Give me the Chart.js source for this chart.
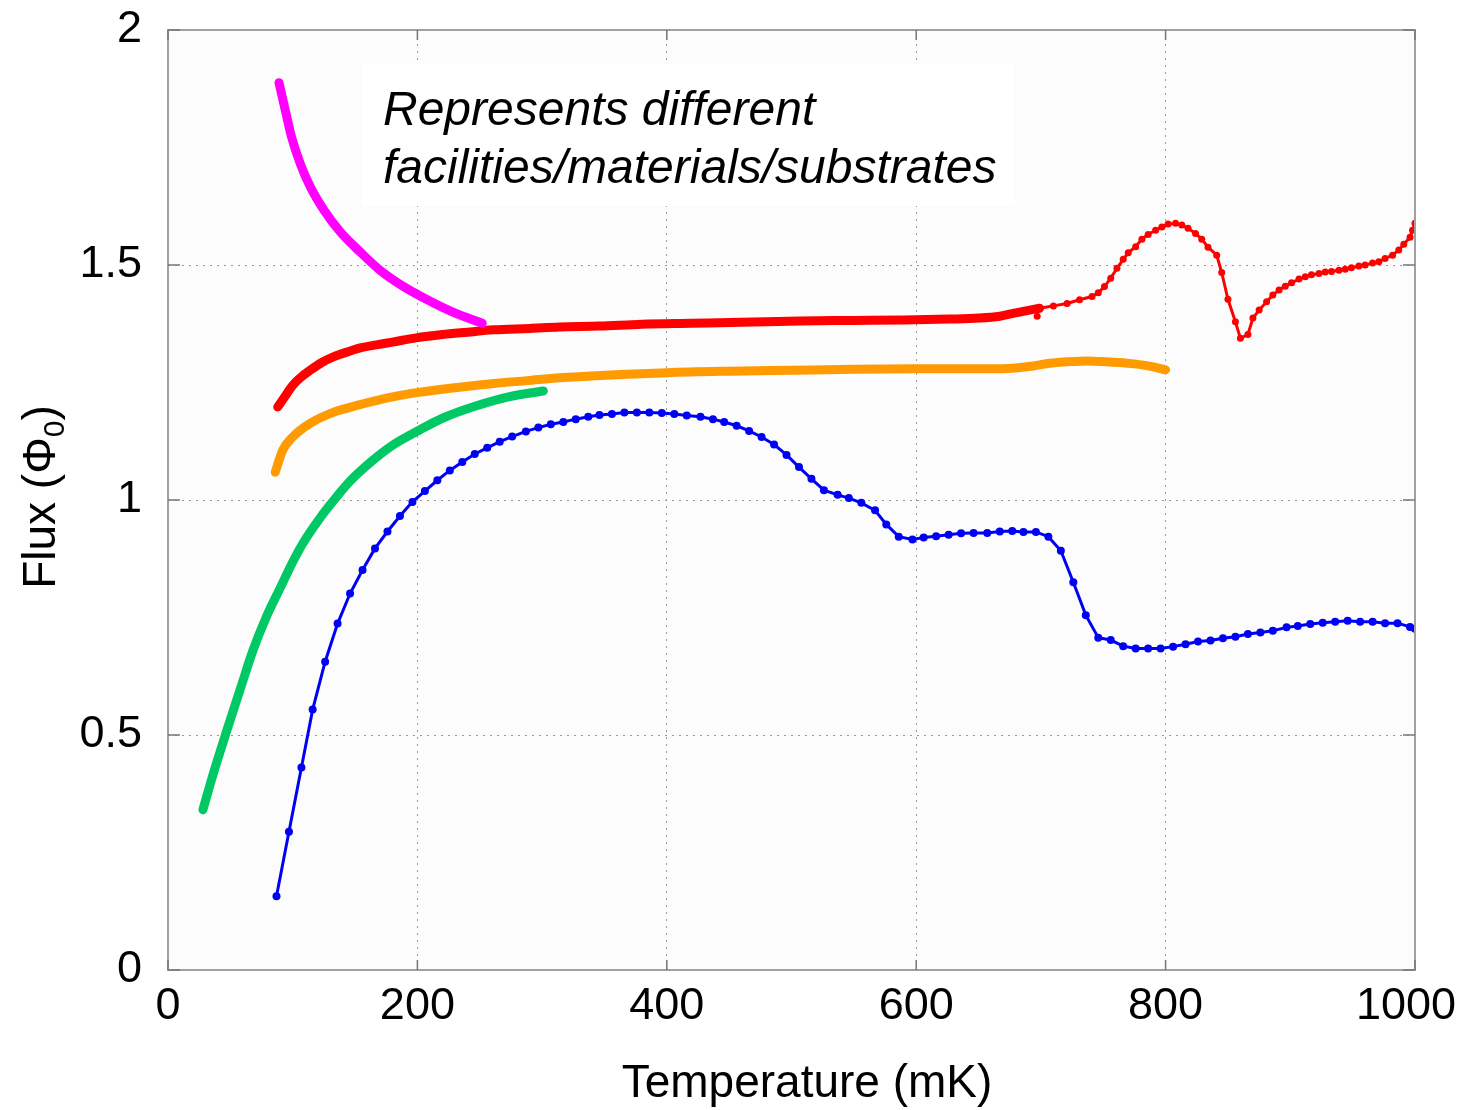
<!DOCTYPE html>
<html>
<head>
<meta charset="utf-8">
<script src="https://cdn.jsdelivr.net/npm/chart.js@4.4.1/dist/chart.umd.min.js"></script>
<style>
body{margin:0;background:#fff;}
</style>
</head>
<body>
<canvas id="fluxChart" width="1462" height="1110"></canvas>
<script>
// temperature in mK, flux in units of Phi_0
const magentaT = [89, 94, 99, 106, 114, 125, 138, 154, 170, 189, 208, 229, 252];
const magentaFlux = [1.888, 1.830, 1.773, 1.716, 1.667, 1.617, 1.571, 1.528, 1.489, 1.454, 1.426, 1.399, 1.376];

const redDenseT = [88, 95, 100, 107, 114, 123, 133, 145, 155, 167, 180, 199, 220, 240, 261, 290, 314, 346, 380, 420, 460, 507, 550, 590, 627, 650, 667, 676, 687, 699];
const redDenseFlux = [1.198, 1.225, 1.244, 1.262, 1.276, 1.292, 1.305, 1.316, 1.324, 1.330, 1.336, 1.345, 1.352, 1.357, 1.362, 1.365, 1.368, 1.370, 1.374, 1.376, 1.378, 1.381, 1.382, 1.383, 1.385, 1.387, 1.391, 1.396, 1.402, 1.408];

const redT = [699, 710, 721, 731, 741, 746, 751, 756, 761, 766, 770, 776, 781, 786, 792, 797, 802, 808, 813, 818, 824, 829, 834, 841, 845, 850, 856, 860, 866, 870, 875, 881, 886, 891, 896, 901, 907, 912, 917, 923, 928, 933, 939, 944, 949, 955, 960, 966, 971, 976, 982, 987, 991, 996, 998, 1000];
const redFlux = [1.408, 1.413, 1.418, 1.426, 1.433, 1.441, 1.454, 1.472, 1.493, 1.512, 1.526, 1.539, 1.555, 1.565, 1.574, 1.581, 1.587, 1.589, 1.585, 1.578, 1.567, 1.555, 1.538, 1.521, 1.484, 1.427, 1.379, 1.344, 1.352, 1.387, 1.404, 1.422, 1.436, 1.447, 1.455, 1.462, 1.470, 1.475, 1.479, 1.482, 1.485, 1.486, 1.489, 1.491, 1.494, 1.498, 1.500, 1.504, 1.507, 1.514, 1.521, 1.532, 1.544, 1.559, 1.574, 1.589];
const redStrayT = [697];
const redStrayFlux = [1.391];

const orangeT = [86, 92, 100, 114, 133, 154, 181, 201, 234, 261, 288, 314, 355, 400, 450, 500, 550, 600, 660, 680, 694, 707, 721, 737, 753, 769, 785, 800];
const orangeFlux = [1.059, 1.106, 1.134, 1.163, 1.187, 1.203, 1.220, 1.229, 1.240, 1.248, 1.254, 1.260, 1.266, 1.271, 1.274, 1.276, 1.278, 1.279, 1.279, 1.281, 1.285, 1.291, 1.294, 1.296, 1.294, 1.291, 1.286, 1.277];

const greenT = [28, 36, 47, 58, 68, 79, 90, 100, 108, 122, 135, 146, 165, 181, 201, 221, 248, 274, 301];
const greenFlux = [0.341, 0.415, 0.508, 0.598, 0.679, 0.752, 0.813, 0.868, 0.907, 0.962, 1.006, 1.040, 1.086, 1.118, 1.148, 1.175, 1.201, 1.220, 1.232];

const blueT = [87, 97, 107, 116, 126, 136, 146, 156, 166, 176, 186, 196, 206, 216, 226, 236, 246, 256, 266, 276, 287, 297, 307, 317, 327, 337, 346, 356, 366, 376, 386, 396, 406, 416, 427, 437, 446, 456, 466, 476, 486, 496, 506, 516, 526, 537, 546, 556, 567, 576, 586, 597, 606, 616, 626, 636, 646, 657, 667, 677, 686, 696, 706, 716, 726, 736, 746, 756, 766, 776, 786, 796, 806, 816, 826, 836, 846, 856, 866, 876, 886, 897, 906, 916, 926, 936, 946, 956, 966, 976, 986, 996, 1000];
const blueFlux = [0.157, 0.294, 0.431, 0.554, 0.656, 0.737, 0.801, 0.851, 0.897, 0.933, 0.966, 0.996, 1.019, 1.042, 1.063, 1.081, 1.098, 1.111, 1.124, 1.135, 1.146, 1.154, 1.161, 1.166, 1.172, 1.177, 1.181, 1.183, 1.186, 1.186, 1.186, 1.185, 1.183, 1.180, 1.177, 1.172, 1.166, 1.158, 1.147, 1.134, 1.118, 1.096, 1.070, 1.045, 1.021, 1.011, 1.004, 0.994, 0.978, 0.948, 0.922, 0.916, 0.920, 0.923, 0.926, 0.929, 0.930, 0.930, 0.933, 0.934, 0.932, 0.932, 0.922, 0.892, 0.825, 0.755, 0.707, 0.702, 0.689, 0.684, 0.684, 0.684, 0.688, 0.693, 0.699, 0.701, 0.706, 0.709, 0.715, 0.718, 0.722, 0.729, 0.732, 0.736, 0.739, 0.741, 0.743, 0.741, 0.741, 0.738, 0.738, 0.730, 0.726];

const xTicks = [0, 200, 400, 600, 800, 1000];
const yTicks = [0, 0.5, 1, 1.5, 2];

function pts(xs, ys) {
  return xs.map((x, i) => ({x: x, y: ys[i]}));
}

function thickLine(label, xs, ys, color) {
  return {
    label: label,
    data: pts(xs, ys),
    borderColor: color,
    backgroundColor: color,
    borderWidth: 9,
    borderCapStyle: 'round',
    borderJoinStyle: 'round',
    pointRadius: 0,
    cubicInterpolationMode: 'monotone',
    fill: false
  };
}

function dotLine(label, xs, ys, color, r) {
  return {
    label: label,
    data: pts(xs, ys),
    borderColor: color,
    backgroundColor: color,
    borderWidth: 3,
    pointRadius: r,
    pointBorderWidth: 0,
    pointBackgroundColor: color,
    tension: 0,
    fill: false
  };
}

// keep tick label overflow from shrinking the plot box
function noOverflow(s) {
  s.paddingTop = 0;
  s.paddingBottom = 0;
  s.paddingLeft = 0;
  s.paddingRight = 0;
}

const FONT = "'Liberation Sans', Arial, sans-serif";
Chart.defaults.font.family = FONT;

const framePlugin = {
  id: 'frame',
  beforeDraw(chart) {
    const a = chart.chartArea, ctx = chart.ctx;
    ctx.save();
    ctx.fillStyle = '#ffffff';
    ctx.fillRect(0, 0, chart.width, chart.height);
    ctx.fillStyle = '#fcfcfc';
    ctx.fillRect(a.left, a.top, a.right - a.left, a.bottom - a.top);
    ctx.restore();
  },
  beforeDatasetsDraw(chart) {
    const ctx = chart.ctx;
    ctx.save();
    // note box
    ctx.fillStyle = '#ffffff';
    ctx.fillRect(362, 64, 653, 142);
    ctx.fillStyle = '#000';
    ctx.font = 'italic 48px ' + FONT;
    ctx.textAlign = 'left';
    ctx.textBaseline = 'alphabetic';
    ctx.fillText('Represents different', 383, 125);
    ctx.fillText('facilities/materials/substrates', 383, 183);
    ctx.restore();
  },
  afterDraw(chart) {
    const a = chart.chartArea, ctx = chart.ctx;
    const xs = chart.scales.x, ys = chart.scales.y;
    ctx.save();
    ctx.setLineDash([]);
    ctx.strokeStyle = '#a0a0a0';
    ctx.lineWidth = 2;
    ctx.strokeRect(a.left, a.top, a.right - a.left, a.bottom - a.top);
    ctx.strokeStyle = '#777';
    ctx.lineWidth = 1.5;
    ctx.beginPath();
    xTicks.forEach(v => {
      const p = xs.getPixelForValue(v);
      ctx.moveTo(p, a.bottom); ctx.lineTo(p, a.bottom - 10);
      ctx.moveTo(p, a.top); ctx.lineTo(p, a.top + 10);
    });
    yTicks.forEach(v => {
      const p = ys.getPixelForValue(v);
      ctx.moveTo(a.left, p); ctx.lineTo(a.left + 12, p);
      ctx.moveTo(a.right, p); ctx.lineTo(a.right - 12, p);
    });
    ctx.stroke();

    // x tick labels, last one kept inside the page
    ctx.fillStyle = '#000';
    ctx.font = '45px ' + FONT;
    ctx.textAlign = 'center';
    ctx.textBaseline = 'alphabetic';
    xTicks.forEach(v => {
      const label = String(v);
      const w = ctx.measureText(label).width;
      let p = xs.getPixelForValue(v);
      if (p + w / 2 > chart.width - 6) p = chart.width - 6 - w / 2;
      ctx.fillText(label, p, a.bottom + 49);
    });

    // axis titles
    ctx.font = '46px ' + FONT;
    ctx.fillText('Temperature (mK)', 807, 1097);

    ctx.translate(55, 497);
    ctx.rotate(-Math.PI / 2);
    const big = '46px ' + FONT, small = '30px ' + FONT;
    ctx.font = big;
    const w1 = ctx.measureText('Flux (\u03A6').width;
    const w3 = ctx.measureText(')').width;
    ctx.font = small;
    const w2 = ctx.measureText('0').width;
    let x0 = -(w1 + w2 + w3) / 2;
    ctx.textAlign = 'left';
    ctx.font = big;
    ctx.fillText('Flux (\u03A6', x0, 0);
    ctx.font = small;
    ctx.fillText('0', x0 + w1, 9);
    ctx.font = big;
    ctx.fillText(')', x0 + w1 + w2, 0);
    ctx.restore();
  }
};

const ctx = document.getElementById('fluxChart').getContext('2d');
const fluxChart = new Chart(ctx, {
  type: 'line',
  data: {
    datasets: [
      thickLine('magenta', magentaT, magentaFlux, '#ff00ff'),
      thickLine('red', redDenseT, redDenseFlux, '#ff0000'),
      dotLine('red markers', redT, redFlux, '#ff0000', 3.5),
      Object.assign(dotLine('red stray', redStrayT, redStrayFlux, '#ff0000', 3.5), {showLine: false}),
      thickLine('orange', orangeT, orangeFlux, '#ff9a00'),
      thickLine('green', greenT, greenFlux, '#00c864'),
      dotLine('blue', blueT, blueFlux, '#0000f5', 4)
    ]
  },
  options: {
    responsive: false,
    animation: false,
    events: [],
    layout: {padding: {top: 30, right: 47, left: 0, bottom: 0}},
    plugins: {
      legend: {display: false},
      tooltip: {enabled: false}
    },
    scales: {
      x: {
        type: 'linear',
        min: 0,
        max: 1000,
        afterFit: s => { s.height = 140; noOverflow(s); },
        afterBuildTicks: s => { s.ticks = xTicks.map(v => ({value: v})); },
        ticks: {display: false},
        grid: {color: '#999', lineWidth: 1, drawTicks: false},
        border: {display: false, dash: [2, 5]}
      },
      y: {
        type: 'linear',
        min: 0,
        max: 2,
        afterFit: s => { s.width = 168; noOverflow(s); },
        afterBuildTicks: s => { s.ticks = yTicks.map(v => ({value: v})); },
        ticks: {color: '#000', font: {size: 45}, padding: 26, callback: v => String(v)},
        grid: {color: '#999', lineWidth: 1, drawTicks: false},
        border: {display: false, dash: [2, 5]}
      }
    }
  },
  plugins: [framePlugin]
});
</script>
</body>
</html>
